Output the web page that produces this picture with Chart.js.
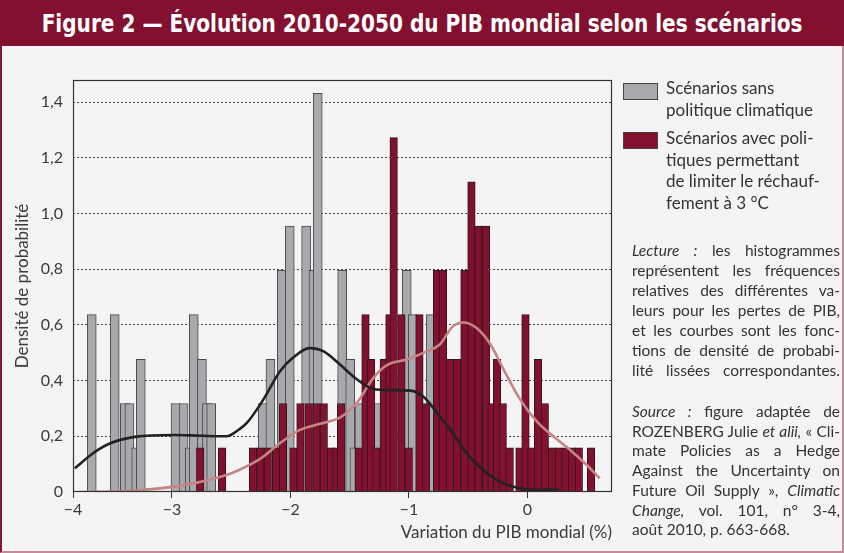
<!DOCTYPE html>
<html lang="fr">
<head>
<meta charset="utf-8">
<title>Figure 2</title>
<script src="https://cdn.jsdelivr.net/npm/chart.js@4.4.1/dist/chart.umd.min.js"></script>
<style>
  html, body { margin: 0; padding: 0; }
  body {
    width: 844px; height: 553px; overflow: hidden; position: relative;
    background: #f4f4f4; font-family: Lato, "Noto Sans", sans-serif; color: #333;
  }
  #frame {
    position: absolute; left: 0; top: 0; width: 844px; height: 553px; box-sizing: border-box;
    border-left: 2px solid #8a1535; border-right: 2px solid #c48a9a; border-bottom: 2px solid #c48a9a;
  }
  #title {
    position: absolute; left: 0; top: 0; width: 844px; height: 46px; background: #82102e;
    text-align: center; white-space: nowrap;
  }
  #title span {
    display: inline-block; color: #fff; font: bold 24px "DejaVu Sans Condensed", "Liberation Sans Narrow", sans-serif;
    line-height: 48px; transform: scaleX(0.93); transform-origin: center;
  }
  #chart { position: absolute; left: 0; top: 0; }
  .sw { position: absolute; left: 623px; width: 35px; height: 17px; box-sizing: border-box; border: 1px solid #444; }
  .lt { position: absolute; left: 666px; font-size: 17px; line-height: 21.5px; color: #333; }
  .note { position: absolute; left: 632px; width: 208px; font-size: 15.5px; color: #333; }
  .note div { text-align: justify; text-align-last: justify; }
  .note div.last { text-align-last: left; }
</style>
</head>
<body>
<div id="frame"></div>
<div id="title"><span>Figure 2 — Évolution 2010-2050 du PIB mondial selon les scénarios</span></div>
<canvas id="chart" width="844" height="553"></canvas>

<div class="sw" style="top:83px; background:#a8a9ad;"></div>
<div class="lt" style="top:77px;">Scénarios sans<br>politique climatique</div>
<div class="sw" style="top:132px; background:#82102e;"></div>
<div class="lt" style="top:127px;">Scénarios avec poli-<br>tiques permettant<br>de limiter le réchauf-<br>fement à 3 °C</div>

<div class="note" style="top:240px; line-height:20px;">
  <div><i>Lecture :</i> les histogrammes</div>
  <div>représentent les fréquences</div>
  <div>relatives des différentes va-</div>
  <div>leurs pour les pertes de PIB,</div>
  <div>et les courbes sont les fonc-</div>
  <div>tions de densité de probabi-</div>
  <div>lité lissées correspondantes.</div>
</div>
<div class="note" style="top:402px; line-height:19.7px;">
  <div><i>Source :</i> figure adaptée de</div>
  <div>ROZENBERG Julie <i>et alii,</i> « Cli-</div>
  <div>mate Policies as a Hedge</div>
  <div>Against the Uncertainty on</div>
  <div>Future Oil Supply », <i>Climatic</i></div>
  <div><i>Change,</i> vol. 101, n° 3-4,</div>
  <div class="last">août 2010, p. 663-668.</div>
</div>

<script>
// histogram, scenarios without climate policy (bar centre, density)
const greyX = [-3.677, -3.483, -3.398, -3.359, -3.302, -3.263, -2.970, -2.902, -2.850, -2.816,
  -2.747, -2.705, -2.669, -2.234, -2.169, -2.073, -2.006, -1.868, -1.806, -1.770,
  -1.564, -1.496, -1.460, -1.418, -1.266, -1.019, -0.968, -0.871, -0.817, -0.720, -0.667, -0.616];
const greyY = [0.637, 0.637, 0.318, 0.318, 0.159, 0.477, 0.318, 0.318, 0.159, 0.637,
  0.477, 0.318, 0.318, 0.318, 0.477, 0.796, 0.955, 0.955, 0.796, 1.432,
  0.796, 0.477, 0.159, 0.318, 0.318, 0.796, 0.637, 0.159, 0.637, 0.318, 0.159, 0.318];

// histogram, scenarios with policies limiting warming to 3 °C
const redX = [-2.762, -2.577, -2.316, -2.254, -2.192, -2.122, -2.063, -1.975, -1.916, -1.846,
  -1.781, -1.719, -1.658, -1.612, -1.573, -1.424, -1.367, -1.320, -1.275, -1.213,
  -1.165, -1.129, -1.064, -1.002, -0.912, -0.856, -0.763, -0.713, -0.656, -0.595,
  -0.532, -0.473, -0.414, -0.350, -0.304, -0.257, -0.209, -0.150, -0.068, -0.017,
  0.033, 0.089, 0.146, 0.207, 0.264, 0.320, 0.376, 0.433, 0.536];
const redY = [0.159, 0.159, 0.159, 0.159, 0.159, 0.159, 0.318, 0.159, 0.318, 0.318,
  0.318, 0.318, 0.159, 0.159, 0.318, 0.159, 0.637, 0.477, 0.159, 0.477,
  0.637, 1.273, 0.637, 0.159, 0.637, 0.318, 0.796, 0.796, 0.477, 0.477,
  0.796, 1.114, 0.955, 0.955, 0.318, 0.477, 0.318, 0.159, 0.159, 0.637,
  0.159, 0.477, 0.318, 0.159, 0.159, 0.159, 0.159, 0.159, 0.159];

// smoothed densities
const greyCurveX = [-3.82, -3.66, -3.52, -3.30, -3.00, -2.75, -2.54, -2.43, -2.37, -2.23,
  -2.09, -1.98, -1.84, -1.72, -1.58, -1.44, -1.30, -1.16, -0.99, -0.88,
  -0.74, -0.63, -0.49, -0.34, -0.20, -0.06, 0.08, 0.26];
const greyCurveY = [0.085, 0.141, 0.175, 0.199, 0.205, 0.202, 0.200, 0.226, 0.247, 0.331,
  0.433, 0.482, 0.517, 0.505, 0.457, 0.405, 0.370, 0.366, 0.364, 0.343,
  0.271, 0.211, 0.127, 0.067, 0.031, 0.013, 0.007, 0.010];
const redCurveX = [-3.79, -3.40, -3.10, -2.82, -2.54, -2.43, -2.26, -2.09, -1.92, -1.75,
  -1.58, -1.44, -1.30, -1.19, -1.02, -0.85, -0.74, -0.63, -0.54, -0.43,
  -0.32, -0.20, -0.06, 0.08, 0.22, 0.36, 0.50, 0.61];
const redCurveY = [0.000, 0.003, 0.013, 0.031, 0.061, 0.080, 0.118, 0.175, 0.223, 0.245,
  0.268, 0.320, 0.410, 0.455, 0.476, 0.505, 0.530, 0.595, 0.609, 0.589,
  0.535, 0.439, 0.331, 0.253, 0.199, 0.151, 0.097, 0.049];

// axis: the figure puts "−4" on the left edge of the frame
const xMin = -3.835, xMax = 0.713;
const xTickValues = [xMin, -3, -2, -1, 0];
const xTickLabels = ["−4", "−3", "−2", "−1", "0"];
const yMin = 0, yMax = 1.48, yStep = 0.2;

function pairs(xs, ys) {
  return xs.map((x, i) => ({ x: x, y: ys[i] }));
}

const framePlugin = {
  id: "frame",
  afterDatasetsDraw(chart) {
    const { ctx, chartArea: a } = chart;
    ctx.save();
    ctx.strokeStyle = "#333";
    ctx.lineWidth = 1.2;
    ctx.strokeRect(a.left + 0.5, a.top + 0.5, a.right - a.left - 1, a.bottom - a.top - 1);
    ctx.restore();
  }
};

Chart.defaults.font.family = "Lato, 'Noto Sans', sans-serif";
Chart.defaults.color = "#3a3a3a";

new Chart(document.getElementById("chart"), {
  type: "bar",
  data: {
    datasets: [
      {
        type: "line", label: "densité sans politique", data: pairs(greyCurveX, greyCurveY),
        borderColor: "#222", borderWidth: 2.6, pointRadius: 0, cubicInterpolationMode: "monotone", order: 0
      },
      {
        type: "line", label: "densité avec politiques", data: pairs(redCurveX, redCurveY),
        borderColor: "#c48584", borderWidth: 2.6, pointRadius: 0, cubicInterpolationMode: "monotone", order: 0
      },
      {
        label: "Scénarios avec politiques", data: pairs(redX, redY),
        backgroundColor: "#82102e", borderColor: "#2b1a1e", borderWidth: 1,
        barThickness: 7.5, grouped: false, order: 1
      },
      {
        label: "Scénarios sans politique climatique", data: pairs(greyX, greyY),
        backgroundColor: "#a8a9ad", borderColor: "#4a4a4a", borderWidth: 1,
        barThickness: 9, grouped: false, order: 2
      }
    ]
  },
  options: {
    responsive: false,
    animation: false,
    layout: { padding: { left: 0, right: 232, top: 80, bottom: 0 } },
    plugins: { legend: { display: false }, tooltip: { enabled: false } },
    scales: {
      x: {
        type: "linear", min: xMin, max: xMax, offset: false,
        afterFit(scale) { scale.height = 61; },
        afterBuildTicks(scale) { scale.ticks = xTickValues.map(v => ({ value: v })); },
        ticks: {
          font: { size: 16 }, padding: 2, maxRotation: 0, autoSkip: false,
          callback: (v, i) => xTickLabels[i]
        },
        grid: { offset: false, drawOnChartArea: false, drawTicks: true, tickLength: 6, color: "#333" },
        border: { display: false },
        title: {
          display: true, text: "Variation du PIB mondial (%)", align: "end",
          font: { size: 17 }, padding: { top: 0, bottom: 10 }
        }
      },
      y: {
        min: yMin, max: yMax,
        afterFit(scale) { scale.width = 73; },
        ticks: {
          stepSize: yStep, includeBounds: false, font: { size: 16 }, padding: 10,
          callback: v => (v === 0 ? "0" : v.toFixed(1).replace(".", ","))
        },
        grid: {
          drawTicks: false, lineWidth: 1,
          color: c => (c.tick && c.tick.value > 0 ? "#444" : "rgba(0,0,0,0)")
        },
        border: { display: false, dash: [2, 2] },
        title: {
          display: true, text: "Densité de probabilité",
          font: { size: 17 }, padding: { top: 12, bottom: 0 }
        }
      }
    }
  },
  plugins: [framePlugin]
});
</script>
</body>
</html>
